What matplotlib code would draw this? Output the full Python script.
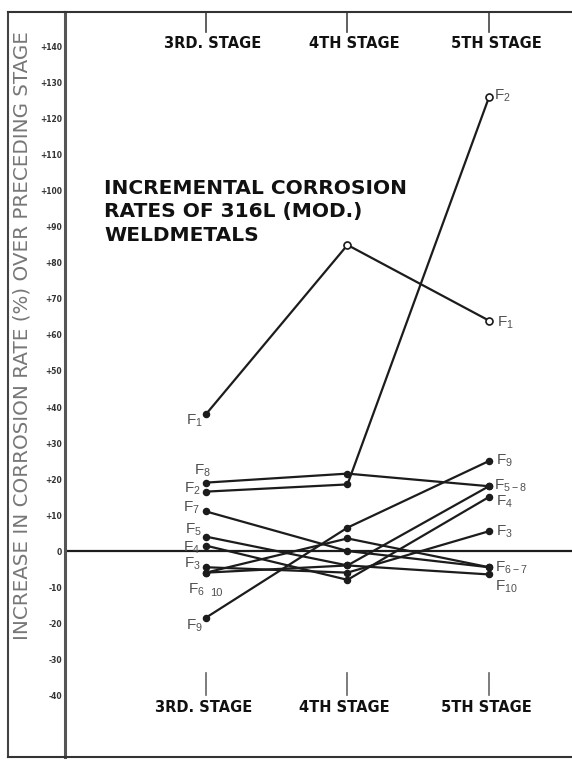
import matplotlib.pyplot as plt
from matplotlib.lines import Line2D
from matplotlib.transforms import blended_transform_factory

plt.rcParams['mathtext.default'] = 'regular'

# stages on the x axis
stages = [3, 4, 5]
stage_names = ['3RD. STAGE', '4TH STAGE', '5TH STAGE']

# increase in corrosion rate (%) over preceding stage
f1 = [38, 85, 64]
f2 = [16.5, 18.5, 126]
f3 = [-4.5, -6, 5.5]
f4 = [1.5, -8, 15]
f5 = [4, -4, 18]
f6 = [-6, 3.5, -4.5]
f7 = [11, 0, -4.5]
f8 = [19, 21.5, 18]
f9 = [-18.5, 6.5, 25]
f10 = [-6, -4, -6.5]
all_series = [f1, f2, f3, f4, f5, f6, f7, f8, f9, f10]

ytick_vals = list(range(-40, 141, 10))
ytick_labels = ['+%d' % v if v > 0 else str(v) for v in ytick_vals]

# labels at 3rd stage (left) and 5th stage (right): (series index, text)
left_labels = [(0, 'F$_1$'), (7, 'F$_8$'), (1, 'F$_2$'), (6, 'F$_7$'), (4, 'F$_5$'),
               (3, 'F$_4$'), (2, 'F$_3$'), (5, 'F$_6$'), (8, 'F$_9$')]
right_labels = [(1, 'F$_2$'), (0, 'F$_1$'), (8, 'F$_9$'), (4, 'F$_{5-8}$'), (3, 'F$_4$'),
                (2, 'F$_3$'), (6, 'F$_{6-7}$'), (9, 'F$_{10}$')]

# offsets (pixels) of the labels from their points
left_off = {0: (-3, -7), 7: (5, 12), 1: (-5, 3), 6: (-6, 4), 4: (-4, 7),
            3: (-6, -2), 2: (-5, 3), 5: (-1, -17), 8: (-3, -8)}
right_off = {1: (5, 2), 0: (8, -2), 8: (7, 0), 4: (5, 0), 3: (7, -5),
             2: (7, -1), 6: (6, -1), 9: (6, -12)}

W, H = 572, 765
fig = plt.figure(figsize=(W / 100, H / 100), dpi=100)
ax = fig.add_axes([65 / W, 8 / H, 507 / W, 745 / H])
ax.set_xlim(2.0035, 5.587)
ax.set_ylim(-57.2, 149.7)

ink = '#1c1c1c'
label_col = '#505050'

ax.axhline(0, color=ink, lw=1.6, zorder=1)

for s in all_series:
    ax.plot(stages, s, color=ink, lw=1.6, marker='o', ms=4.4, mfc=ink, mec=ink, zorder=3)

# open circles at the high points
ax.plot([stages[1], stages[2]], [f1[1], f1[2]], ls='none', marker='o', ms=5,
        mfc='white', mec=ink, mew=1.2, zorder=4)
ax.plot([stages[2]], [f2[2]], ls='none', marker='o', ms=5,
        mfc='white', mec=ink, mew=1.2, zorder=4)

for i, txt in left_labels:
    dx, dy = left_off[i]
    ax.annotate(txt, (stages[0], all_series[i][0]), xytext=(dx, dy),
                textcoords='offset pixels', ha='right', va='center',
                fontsize=11, color=label_col, family='Liberation Sans')
ax.annotate('10', (stages[0], f10[0]), xytext=(4, -20), textcoords='offset pixels',
            ha='left', va='center', fontsize=8, color=label_col, family='Liberation Sans')

for i, txt in right_labels:
    dx, dy = right_off[i]
    ax.annotate(txt, (stages[2], all_series[i][2]), xytext=(dx, dy),
                textcoords='offset pixels', ha='left', va='center',
                fontsize=11, color=label_col, family='Liberation Sans')

# stage markers and names, top and bottom
tr = blended_transform_factory(ax.transData, ax.transAxes)
for x, name in zip(stages, stage_names):
    ax.plot([x, x], [1, 1 - 20 / 745], color='#444', lw=1.2, transform=tr, clip_on=False)
    ax.text(x + 0.05, 1 - 31 / 745, name, transform=tr, ha='center', va='center',
            fontsize=10.5, fontweight='bold', color='#111', family='DejaVu Sans')
    ax.plot([x, x], [62 / 745, 84 / 745], color='#666', lw=1.2, transform=tr)
    ax.text(x - 0.02, 49 / 745, name, transform=tr, ha='center', va='center',
            fontsize=10.5, fontweight='bold', color='#111', family='DejaVu Sans')

ax.text(0.077, 1 - 167 / 745,
        'INCREMENTAL CORROSION\nRATES OF 316L (MOD.)\nWELDMETALS',
        transform=ax.transAxes, ha='left', va='top', fontsize=14.5, fontweight='bold',
        color='#111', family='DejaVu Sans', linespacing=1.3)

ax.set_xticks([])
ax.set_yticks(ytick_vals)
ax.set_yticklabels(ytick_labels, fontsize=5.5, color='#333', fontweight='bold')
ax.tick_params(axis='y', length=0, pad=2)

for side in ['top', 'bottom']:
    ax.spines[side].set_color('#333')
    ax.spines[side].set_linewidth(1.5)
ax.spines['left'].set_color('#555')
ax.spines['left'].set_linewidth(2.2)
ax.spines['right'].set_visible(False)

# outer frame to the left of the axis
fig.add_artist(Line2D([8 / W, 8 / W], [8 / H, 1 - 12 / H], color='#444', lw=1.5))
fig.add_artist(Line2D([8 / W, 65 / W], [1 - 12 / H, 1 - 12 / H], color='#333', lw=1.5))
fig.add_artist(Line2D([8 / W, 65 / W], [8 / H, 8 / H], color='#333', lw=1.5))

fig.text(22 / W, 1 - 336 / H, 'INCREASE IN CORROSION RATE (%) OVER PRECEDING STAGE',
         rotation=90, ha='center', va='center', fontsize=14.3, color='#777')

fig.savefig('out.png', dpi=100)
